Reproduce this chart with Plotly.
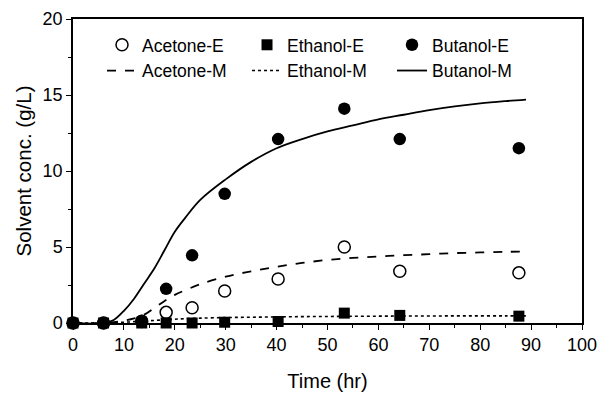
import plotly.graph_objects as go

# Experimental data (time in hr, conc in g/L)
time_exp = [0, 6, 13.5, 18.3, 23.4, 29.8, 40.3, 53.3, 64.2, 87.6]
acetone_e = [0, 0, 0.1, 0.7, 1.0, 2.1, 2.9, 5.0, 3.4, 3.3]
ethanol_e = [0, 0, 0, 0, 0, 0.05, 0.1, 0.65, 0.5, 0.45]
butanol_e = [0, 0, 0.15, 2.25, 4.45, 8.5, 12.1, 14.1, 12.1, 11.5]

# Model curves
time_mod = [0, 6, 8, 10, 12, 14, 16, 18, 20, 22, 25, 30, 35, 40, 45, 50, 55, 60, 65, 70, 75, 80, 85, 89]
acetone_m = [0, 0, 0.05, 0.15, 0.3, 0.55, 1.0, 1.45, 1.85, 2.15, 2.55, 3.05, 3.4, 3.7, 3.95, 4.15, 4.28, 4.38, 4.46, 4.53, 4.6, 4.64, 4.68, 4.7]
ethanol_m = [0, 0, 0.02, 0.05, 0.09, 0.13, 0.17, 0.21, 0.25, 0.28, 0.32, 0.36, 0.38, 0.4, 0.42, 0.43, 0.44, 0.45, 0.46, 0.46, 0.47, 0.47, 0.47, 0.47]
butanol_m = [0, 0, 0.2, 0.8, 1.6, 2.6, 3.6, 4.8, 6.0, 6.9, 8.1, 9.45, 10.6, 11.5, 12.1, 12.6, 13.0, 13.4, 13.7, 14.0, 14.25, 14.45, 14.6, 14.7]

x_ticks = list(range(0, 101, 10))
y_ticks = [0, 5, 10, 15, 20]

FONT = "Liberation Sans, Arial, sans-serif"

fig = go.Figure()

# order: row 1 markers, row 2 lines
fig.add_trace(go.Scatter(x=time_exp, y=acetone_e, mode="markers", name="Acetone-E",
                         marker=dict(symbol="circle-open", size=12, color="black", line=dict(width=1.5, color="black")),
                         cliponaxis=False))
fig.add_trace(go.Scatter(x=time_exp, y=ethanol_e, mode="markers", name="Ethanol-E",
                         marker=dict(symbol="square", size=11, color="black"),
                         cliponaxis=False))
fig.add_trace(go.Scatter(x=time_exp, y=butanol_e, mode="markers", name="Butanol-E",
                         marker=dict(symbol="circle", size=12.5, color="black"),
                         cliponaxis=False))
fig.add_trace(go.Scatter(x=time_mod, y=acetone_m, mode="lines", name="Acetone-M",
                         line=dict(color="black", width=1.8, dash="dash", shape="spline"),
                         cliponaxis=False))
fig.add_trace(go.Scatter(x=time_mod, y=ethanol_m, mode="lines", name="Ethanol-M",
                         line=dict(color="black", width=1.6, dash="dot", shape="spline"),
                         cliponaxis=False))
fig.add_trace(go.Scatter(x=time_mod, y=butanol_m, mode="lines", name="Butanol-M",
                         line=dict(color="black", width=1.8, shape="spline"),
                         cliponaxis=False))

axis_common = dict(showline=True, linecolor="black", linewidth=1.5, mirror=True,
                   ticks="outside", tickcolor="black", ticklen=5, tickwidth=1.2,
                   showgrid=False, zeroline=False, automargin=False,
                   ticklabeloverflow="allow",
                   tickfont=dict(family=FONT, size=18, color="black"))

fig.update_xaxes(range=[0, 100], tickvals=x_ticks, ticktext=[str(v) for v in x_ticks],
                 minor=dict(dtick=5, tick0=0, ticks="outside", ticklen=3, tickcolor="black", showgrid=False),
                 title=dict(text="Time (hr)", font=dict(family=FONT, size=20, color="black"), standoff=20),
                 **axis_common)
fig.update_yaxes(range=[0, 20], tickvals=y_ticks, ticktext=[str(v) for v in y_ticks],
                 minor=dict(dtick=2.5, tick0=0, ticks="outside", ticklen=3, tickcolor="black", showgrid=False),
                 title=dict(text="Solvent conc. (g/L)", font=dict(family=FONT, size=20.5, color="black"), standoff=5),
                 **axis_common)

fig.update_layout(
    width=611, height=399,
    margin=dict(l=65, r=37, t=11, b=84),
    paper_bgcolor="white", plot_bgcolor="white",
    font=dict(family=FONT, color="black"),
    legend=dict(orientation="h", x=0.057, y=0.974, xanchor="left", yanchor="top",
                entrywidth=100, entrywidthmode="pixels",
                bgcolor="rgba(0,0,0,0)", borderwidth=0,
                font=dict(family=FONT, size=17.5, color="black"),
                traceorder="normal", itemwidth=30),
    showlegend=True,
)

fig.write_html("out.html")
